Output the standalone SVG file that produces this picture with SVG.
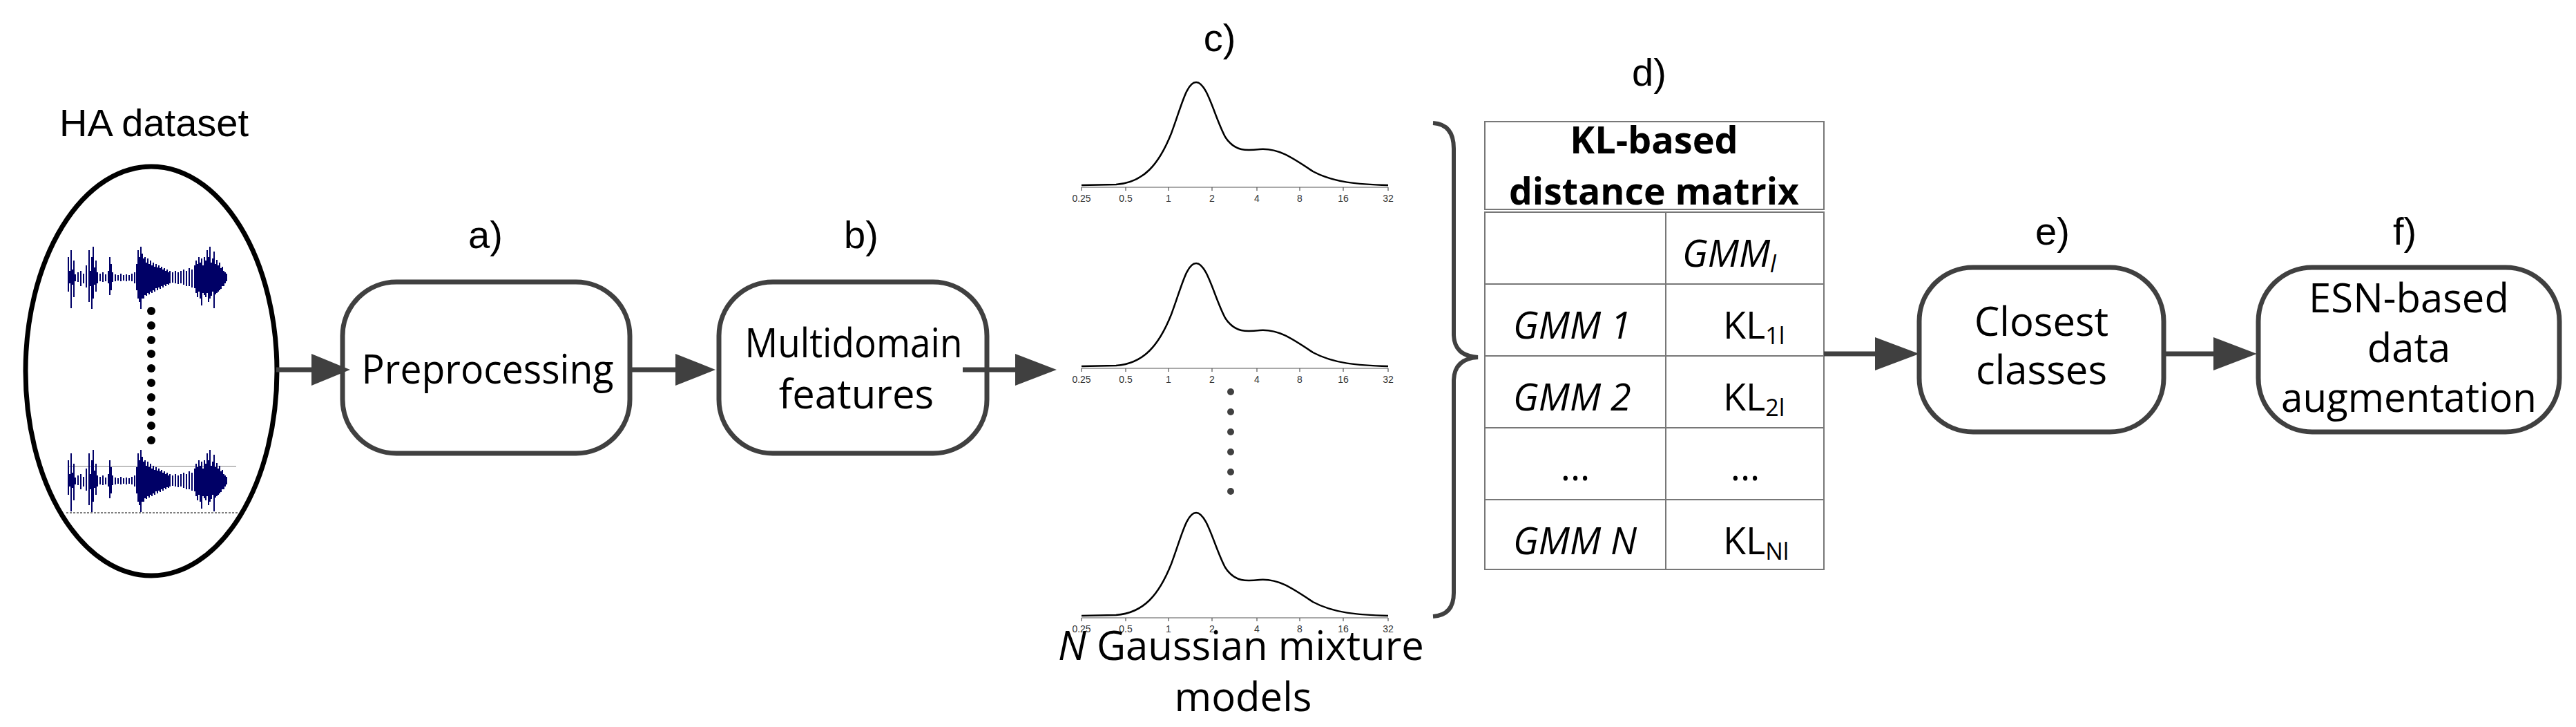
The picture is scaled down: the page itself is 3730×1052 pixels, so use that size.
<svg xmlns="http://www.w3.org/2000/svg" xmlns:xlink="http://www.w3.org/1999/xlink" width="3730" height="1052" viewBox="0 0 3730 1052">
<style>
.lbl{font-family:"Liberation Sans",Arial,sans-serif;font-size:56px;fill:#000;text-anchor:middle}
.box{fill:#fff;stroke:#404040;stroke-width:7}
.bt{font-family:"Open Sans","Noto Sans",sans-serif;font-size:58px;fill:#000;text-anchor:middle}
.cell{fill:#fff;stroke:#777;stroke-width:2}
.tt{font-family:"Open Sans","Noto Sans",sans-serif;font-size:54px;fill:#000}
.it{font-style:italic}
.conn{stroke:#404040;stroke-width:7;fill:none}
.head{fill:#404040}
.curve{fill:none;stroke:#000;stroke-width:2.5}
.ax{font-family:"Liberation Sans",Arial,sans-serif;font-size:14px;fill:#333;text-anchor:middle}
.wave{stroke:#000066;stroke-width:2;fill:none}
</style>
<defs>
<path id="wv" class="wave" d="M0,-30V20M2,-10V8M4,-40V44M6,-12V10M8,-25V28M10,-5V5M14,-8V6M18,-10V12M22,-6V8M26,-18V14M30,-40V35M32,-10V12M34,-30V45M36,-45V30M38,-15V10M40,-25V20M42,-8V8M46,-6V5M50,-8V6M54,-5V5M58,-10V8M60,-30V25M62,-20V18M64,-8V6M68,-5V5M72,-4V4M76,-6V5M80,-4V4M84,-5V5M88,-4V4M92,-6V5M96,-8V8M99,-20V18M101,-40V30M103,-30V35M105,-45V45M107,-35V30M109,-28V30M111,-30V25M113,-22V26M115,-28V22M117,-20V24M119,-25V20M121,-18V22M123,-22V18M125,-16V20M127,-20V15M129,-15V18M131,-18V14M133,-14V16M135,-16V12M137,-12V14M139,-14V10M141,-10V12M143,-12V9M145,-8V10M147,-10V8M151,-8V7M155,-10V8M159,-8V9M163,-10V8M167,-12V10M171,-10V12M175,-14V12M179,-12V14M183,-18V15M185,-25V22M187,-20V28M189,-30V20M191,-22V30M193,-28V40M195,-18V22M197,-30V25M199,-25V28M201,-40V22M203,-30V35M205,-45V30M207,-22V26M209,-28V20M211,-38V44M213,-20V24M215,-26V22M217,-18V20M219,-22V18M221,-14V16M223,-16V12M225,-10V12M227,-8V8M229,-6V5M233,0V0"/>
<g id="gmm">
<path class="curve" d="M0,0 L50,-1 C90,-4 112,-30 130,-75 C145,-115 152,-149 166,-149 C182,-149 192,-100 208,-70 C222,-48 240,-50 258,-52 C285,-54 305,-40 335,-20 C365,-4 400,-1 444,0"/>
<path stroke="#555" stroke-width="1.2" fill="none" d="M0,3H444M0,3v5M64,3v5M126,3v5M189,3v5M254,3v5M316,3v5M379,3v5M444,3v5"/>
<text class="ax" x="0" y="24">0.25</text><text class="ax" x="64" y="24">0.5</text><text class="ax" x="126" y="24">1</text><text class="ax" x="189" y="24">2</text><text class="ax" x="254" y="24">4</text><text class="ax" x="316" y="24">8</text><text class="ax" x="379" y="24">16</text><text class="ax" x="444" y="24">32</text>
</g>
</defs>
<rect width="3730" height="1052" fill="#fff"/>

<g id="ha-dataset">
<text class="lbl" x="223" y="197" font-size="60">HA dataset</text>
<ellipse cx="219" cy="537" rx="182" ry="296" fill="#fff" stroke="#000" stroke-width="7"/>
<use xlink:href="#wv" x="99" y="402"/>
<g fill="#000"><circle cx="219" cy="450" r="6"/><circle cx="219" cy="471" r="6"/><circle cx="219" cy="492" r="6"/><circle cx="219" cy="512" r="6"/><circle cx="219" cy="533" r="6"/><circle cx="219" cy="554" r="6"/><circle cx="219" cy="575" r="6"/><circle cx="219" cy="596" r="6"/><circle cx="219" cy="616" r="6"/><circle cx="219" cy="637" r="6"/></g>
<line x1="99" y1="675" x2="342" y2="675" stroke="#aaa" stroke-width="1.5"/>
<use xlink:href="#wv" x="99" y="696"/>
<line x1="96" y1="742" x2="344" y2="742" stroke="#000" stroke-width="1.2" stroke-dasharray="3,2"/>
</g>

<g id="preprocessing">
<text class="lbl" x="703" y="359">a)</text>
<rect class="box" x="496" y="408" width="416" height="248" rx="78" ry="78"/>
<text class="bt" x="706" y="555" textLength="365" lengthAdjust="spacingAndGlyphs">Preprocessing</text>
</g>

<g id="multidomain">
<text class="lbl" x="1247" y="359">b)</text>
<rect class="box" x="1041" y="408" width="388" height="248" rx="78" ry="78"/>
<text class="bt" x="1236" y="517" textLength="315" lengthAdjust="spacingAndGlyphs">Multidomain</text>
<text class="bt" x="1240" y="591">features</text>
</g>

<g id="gmms">
<text class="lbl" x="1766" y="74">c)</text>
<use xlink:href="#gmm" x="1566" y="268"/>
<use xlink:href="#gmm" x="1566" y="530"/>
<use xlink:href="#gmm" x="1566" y="891"/>
<g fill="#404040"><circle cx="1782" cy="567" r="5"/><circle cx="1782" cy="596" r="5"/><circle cx="1782" cy="625" r="5"/><circle cx="1782" cy="654" r="5"/><circle cx="1782" cy="683" r="5"/><circle cx="1782" cy="711" r="5"/></g>
<text class="bt" x="1797" y="955" font-size="60"><tspan class="it">N</tspan> Gaussian mixture</text>
<text class="bt" x="1800" y="1029" font-size="60">models</text>
<path d="M2075,178 Q2105,180 2105,215 L2105,485 Q2106,515 2140,517 Q2106,519 2105,550 L2105,858 Q2105,890 2075,892" fill="none" stroke="#404040" stroke-width="6"/>
</g>

<g id="kl-matrix">
<text class="lbl" x="2388" y="124">d)</text>
<rect class="cell" x="2150" y="176" width="491" height="127"/>
<text class="tt" x="2395" y="222" font-weight="bold" text-anchor="middle">KL-based</text>
<text class="tt" x="2395" y="296" font-weight="bold" text-anchor="middle" textLength="420" lengthAdjust="spacingAndGlyphs">distance matrix</text>
<rect class="cell" x="2150" y="307" width="262" height="104"/><rect class="cell" x="2412" y="307" width="229" height="104"/>
<rect class="cell" x="2150" y="411" width="262" height="104"/><rect class="cell" x="2412" y="411" width="229" height="104"/>
<rect class="cell" x="2150" y="515" width="262" height="104"/><rect class="cell" x="2412" y="515" width="229" height="104"/>
<rect class="cell" x="2150" y="619" width="262" height="104"/><rect class="cell" x="2412" y="619" width="229" height="104"/>
<rect class="cell" x="2150" y="723" width="262" height="101"/><rect class="cell" x="2412" y="723" width="229" height="101"/>
<text class="tt it" x="2436" y="386">GMM<tspan font-size="34" dy="8">l</tspan></text>
<text class="tt it" x="2191" y="490">GMM 1</text>
<text class="tt it" x="2191" y="594">GMM 2</text>
<text class="tt" x="2281" y="695" text-anchor="middle">...</text>
<text class="tt" x="2527" y="695" text-anchor="middle">...</text>
<text class="tt it" x="2191" y="802">GMM N</text>
<text class="tt" x="2495" y="490">KL<tspan font-size="34" dy="8">1l</tspan></text>
<text class="tt" x="2495" y="594">KL<tspan font-size="34" dy="8">2l</tspan></text>
<text class="tt" x="2495" y="802">KL<tspan font-size="34" dy="8">Nl</tspan></text>
</g>

<g id="closest">
<text class="lbl" x="2972" y="354">e)</text>
<rect class="box" x="2779" y="387" width="354" height="238" rx="78" ry="78"/>
<text class="bt" x="2956" y="486">Closest</text>
<text class="bt" x="2956" y="556">classes</text>
</g>

<g id="esn">
<text class="lbl" x="3482" y="354">f)</text>
<rect class="box" x="3270" y="387" width="436" height="238" rx="78" ry="78"/>
<text class="bt" x="3488" y="452">ESN-based</text>
<text class="bt" x="3488" y="524">data</text>
<text class="bt" x="3488" y="596" textLength="370" lengthAdjust="spacingAndGlyphs">augmentation</text>
</g>

<g id="connectors">
<line class="conn" x1="400" y1="535" x2="455" y2="535"/><polygon class="head" points="451,512 507,535 451,558"/>
<line class="conn" x1="912" y1="535" x2="982" y2="535"/><polygon class="head" points="978,512 1036,535 978,558"/>
<line class="conn" x1="1394" y1="535" x2="1475" y2="535"/><polygon class="head" points="1470,512 1530,535 1470,558"/>
<line class="conn" x1="2641" y1="512" x2="2720" y2="512"/><polygon class="head" points="2715,488 2779,512 2715,536"/>
<line class="conn" x1="3133" y1="512" x2="3210" y2="512"/><polygon class="head" points="3205,488 3268,512 3205,536"/>
</g>
</svg>
